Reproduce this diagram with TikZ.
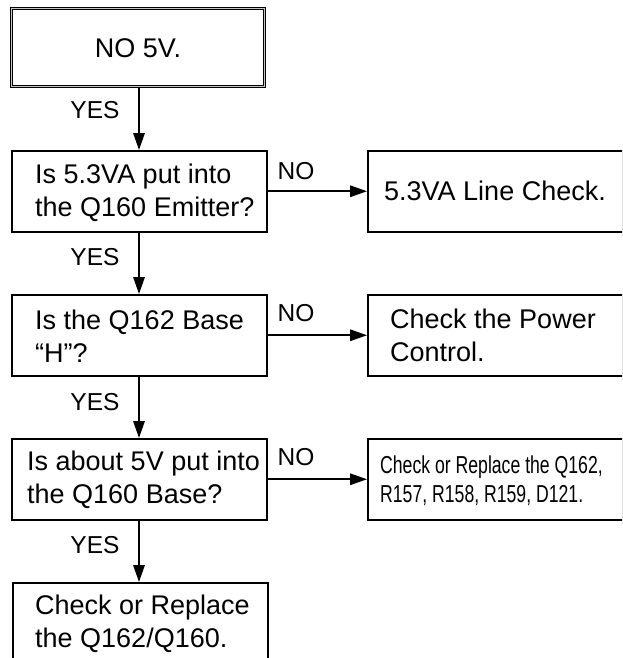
\documentclass[tikz,border=0pt]{standalone}
\usepackage{fontspec}
\setmainfont{Liberation Sans}
\newfontfamily\narrowfont{Liberation Sans}[FakeStretch=0.72]
\usetikzlibrary{arrows.meta}
\begin{document}
\begin{tikzpicture}[x=1pt,y=-1pt,
  frame/.style={draw, line width=1.5pt, anchor=north west, minimum width=255pt, minimum height=81pt, inner sep=0pt},
  topframe/.style={draw, line width=1pt, double=gray!45, double distance=1.4pt, anchor=north west, minimum width=253pt, minimum height=78pt, inner sep=0pt},
  txt/.style={anchor=west, align=left, inner sep=0pt, font=\fontsize{27}{33}\selectfont},
  narrowtxt/.style={anchor=west, align=left, inner sep=0pt, font=\fontsize{24.5}{29}\selectfont\narrowfont},
  lbl/.style={inner sep=0pt, font=\fontsize{24.5}{28}\selectfont},
  flow/.style={line width=1.6pt, -{Triangle[length=17pt,width=11.5pt]}}
]
\useasboundingbox (0,0) rectangle (622,658);
\clip (0,0) rectangle (622,658);

% boxes
\node[topframe] (b1) at (11,8) {};
\node[frame] (b2) at (11,150) {};
\node[frame] (r2) at (367,150) {};
\node[frame] (b3) at (11,294) {};
\node[frame] (r3) at (367,294) {};
\node[frame] (b4) at (11,438) {};
\node[frame] (r4) at (367,438) {};
\node[frame, minimum height=110pt] (b5) at (12,582) {};

% texts
\node[txt, anchor=center] (t1) at (138,48) {NO 5V.};
\node[txt] (t2) at (35,193) {Is 5.3VA put into\\the Q160 Emitter?};
\node[txt] (u2) at (384,191) {5.3VA Line Check.};
\node[txt] (t3) at (35,336) {Is the Q162 Base\\“H”?};
\node[txt] (u3) at (390,335) {Check the Power\\Control.};
\node[txt] (t4) at (27,480) {Is about 5V put into\\the Q160 Base?};
\node[narrowtxt] (u4) at (380,481) {Check or Replace the Q162,\\R157, R158, R159, D121.};
\node[txt, anchor=north west] (t5) at (35,595) {Check or Replace\\the Q162/Q160.};

% connectors
\coordinate (a1) at (139,0);
\draw[flow] (b1.south -| a1) -- (b2.north -| a1);
\draw[flow] (b2.south -| a1) -- (b3.north -| a1);
\draw[flow] (b3.south -| a1) -- (b4.north -| a1);
\draw[flow] (b4.south -| a1) -- (b5.north -| a1);
\draw[flow] (b2.east) -- (r2.west);
\draw[flow] (b3.east) -- (r3.west);
\draw[flow] (b4.east) -- (r4.west);

% labels
\node[lbl] (y1) at (95,110) {YES};
\node[lbl] (y2) at (95,257) {YES};
\node[lbl] (y3) at (95,402) {YES};
\node[lbl] (y4) at (95,545) {YES};
\node[lbl] (n2) at (296,171) {NO};
\node[lbl] (n3) at (296,313) {NO};
\node[lbl] (n4) at (296,457) {NO};
\end{tikzpicture}
\end{document}
